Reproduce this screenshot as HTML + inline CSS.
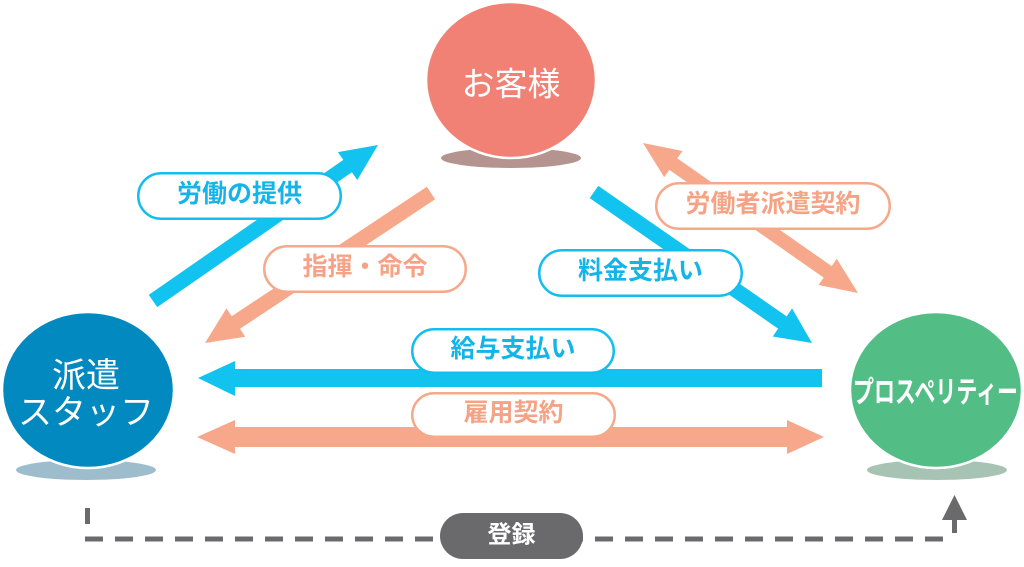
<!DOCTYPE html>
<html>
<head>
<meta charset="utf-8">
<style>
  html,body{margin:0;padding:0;background:#ffffff;}
  body{width:1024px;height:567px;overflow:hidden;}
  svg{display:block;}
  text{font-family:"Liberation Sans","Noto Sans CJK JP",sans-serif;}
</style>
</head>
<body>
<svg width="1024" height="567" viewBox="0 0 1024 567" xmlns="http://www.w3.org/2000/svg">
  <!-- shadows -->
  <ellipse cx="511" cy="158" rx="70" ry="10" fill="#b5948f"/>
  <ellipse cx="86" cy="470" rx="70" ry="10" fill="#9dbdcd"/>
  <ellipse cx="937" cy="470" rx="70" ry="10" fill="#a6c3b3"/>

  <!-- circles -->
  <ellipse cx="511" cy="80" rx="85" ry="78" fill="#f28175" stroke="#ffffff" stroke-width="2.5"/>
  <ellipse cx="88" cy="390" rx="86" ry="78" fill="#0289c0" stroke="#ffffff" stroke-width="2.5"/>
  <ellipse cx="936" cy="390" rx="86" ry="78" fill="#52bd85" stroke="#ffffff" stroke-width="2.5"/>

  <!-- circle labels -->
  <text x="511" y="84" font-size="33" fill="#ffffff" text-anchor="middle" dominant-baseline="central">お客様</text>
  <text x="86" y="376" font-size="34" fill="#ffffff" text-anchor="middle" dominant-baseline="central">派遣</text>
  <text x="86" y="413" font-size="34" fill="#ffffff" text-anchor="middle" dominant-baseline="central">スタッフ</text>
  <text x="853" y="393" font-size="30" font-weight="bold" fill="#ffffff" dominant-baseline="central" textLength="165" lengthAdjust="spacingAndGlyphs">プロスペリティー</text>

  <!-- arrow 1: blue 労働の提供 -->
  <polygon fill="#12c3f0" points="157.27,307.16 351.86,172.24 357.28,180.05 378,145 337.9,152.11 343.32,159.92 148.73,294.84"/>
  <!-- arrow 2: salmon 指揮・命令 -->
  <polygon fill="#f7a88a" points="435.15,199.25 239.98,328.79 245.23,336.70 205,343 226.43,308.38 231.68,316.29 426.85,186.75"/>
  <!-- arrow 3: blue 料金支払い -->
  <polygon fill="#12c3f0" points="589.73,198.17 778.14,328.67 772.73,336.47 812,343 792.09,308.53 786.68,316.33 598.27,185.83"/>
  <!-- arrow 4: salmon double 労働者派遣契約 -->
  <polygon fill="#f7a88a" points="643,143 664.19,177.29 669.34,169.91 823.66,277.57 818.51,284.95 858,293 836.81,258.71 831.66,266.09 677.34,158.43 682.49,151.05"/>
  <!-- arrow 5: blue horizontal 給与支払い -->
  <polygon fill="#12c3f0" points="822,369 235,369 235,361 198,378 235,396 235,387 822,387"/>
  <!-- arrow 6: salmon double horizontal 雇用契約 -->
  <polygon fill="#f7a88a" points="197,437 235,420 235,427 787,427 787,420 824,437 787,454 787,447 235,447 235,454"/>

  <!-- pills -->
  <rect x="138.25" y="173.25" width="202.5" height="45.5" rx="22.75" fill="#ffffff" stroke="#14bdf0" stroke-width="2.5"/>
  <text x="239.5" y="194" font-size="25" font-weight="bold" fill="#15b4e8" text-anchor="middle" dominant-baseline="central">労働の提供</text>

  <rect x="264.25" y="246.25" width="201.5" height="45.5" rx="22.75" fill="#ffffff" stroke="#f7a88a" stroke-width="2.5"/>
  <text x="365" y="267" font-size="25" font-weight="bold" fill="#f6a385" text-anchor="middle" dominant-baseline="central">指揮・命令</text>

  <rect x="539.25" y="250.25" width="202.5" height="45.5" rx="22.75" fill="#ffffff" stroke="#14bdf0" stroke-width="2.5"/>
  <text x="640.5" y="271" font-size="25" font-weight="bold" fill="#15b4e8" text-anchor="middle" dominant-baseline="central">料金支払い</text>

  <rect x="656.25" y="183.25" width="233.5" height="45.5" rx="22.75" fill="#ffffff" stroke="#f7a88a" stroke-width="2.5"/>
  <text x="773" y="204" font-size="25" font-weight="bold" fill="#f6a385" text-anchor="middle" dominant-baseline="central">労働者派遣契約</text>

  <rect x="412.25" y="329.25" width="201.5" height="43.5" rx="21.75" fill="#ffffff" stroke="#14bdf0" stroke-width="2.5"/>
  <text x="513" y="349" font-size="25" font-weight="bold" fill="#15b4e8" text-anchor="middle" dominant-baseline="central">給与支払い</text>

  <rect x="412.25" y="393.25" width="202.5" height="43.5" rx="21.75" fill="#ffffff" stroke="#f7a88a" stroke-width="2.5"/>
  <text x="513.5" y="413" font-size="25" font-weight="bold" fill="#f6a385" text-anchor="middle" dominant-baseline="central">雇用契約</text>

  <!-- dashed registration line -->
  <line x1="87.5" y1="508" x2="87.5" y2="524" stroke="#6a6a6c" stroke-width="5"/>
  <line x1="85" y1="539" x2="948" y2="539" stroke="#6a6a6c" stroke-width="5" stroke-dasharray="18 12"/>
  <line x1="954.5" y1="518" x2="954.5" y2="533" stroke="#6a6a6c" stroke-width="5"/>
  <polygon fill="#6a6a6c" points="942,520 954.5,495 967,520"/>

  <rect x="440" y="513" width="143" height="46" rx="23" fill="#6a6a6c"/>
  <text x="511.5" y="535" font-size="24" font-weight="bold" fill="#ffffff" text-anchor="middle" dominant-baseline="central">登録</text>
</svg>
</body>
</html>
